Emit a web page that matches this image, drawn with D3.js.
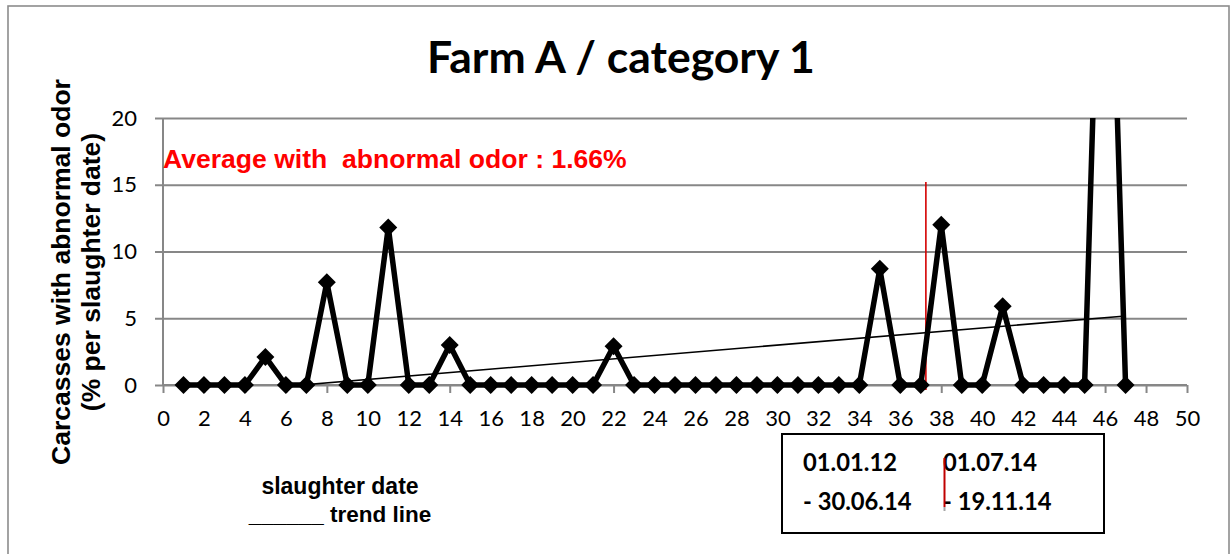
<!DOCTYPE html>
<html>
<head>
<meta charset="utf-8">
<script src="https://cdn.jsdelivr.net/npm/d3@7"></script>
<style>
  html, body { margin: 0; padding: 0; background: #fff; }
  svg { display: block; }
</style>
</head>
<body>
<svg id="chart" width="1231" height="554"></svg>
<script>
// Share of carcasses with abnormal odor per slaughter date (%)
const slaughterDates = [1, 2, 3, 4, 5, 6, 7, 8, 9, 10, 11, 12, 13, 14, 15, 16, 17, 18, 19, 20, 21, 22, 23, 24,
                        25, 26, 27, 28, 29, 30, 31, 32, 33, 34, 35, 36, 37, 38, 39, 40, 41, 42, 43, 44, 45, 46, 47];
const odorPercent = [0, 0, 0, 0, 2.1, 0, 0, 7.7, 0, 0, 11.8, 0, 0, 3.0, 0, 0, 0, 0, 0, 0, 0, 2.9, 0, 0,
                     0, 0, 0, 0, 0, 0, 0, 0, 0, 0, 8.7, 0, 0, 12.0, 0, 0, 5.9, 0, 0, 0, 0, 50, 0];

const xTicks = [0, 2, 4, 6, 8, 10, 12, 14, 16, 18, 20, 22, 24, 26, 28, 30, 32, 34, 36, 38, 40, 42, 44, 46, 48, 50];
const yTicks = [0, 5, 10, 15, 20];

// boundary between the two recording periods, and the height of its marker line
const periodBreak = 37.25;
const periodMarkerTop = 15.2;
const periodLabels = [["01.01.12", "- 30.06.14"], ["01.07.14", "- 19.11.14"]];

const titleText = "Farm A / category 1";
const yTitleLines = ["Carcasses with abnormal odor", "(% per slaughter date)"];
const averageLabel = "Average with  abnormal odor : 1.66%";
const xTitleLines = ["slaughter date", "______ trend line"];

const points = slaughterDates.map((d, i) => ({ x: d, y: odorPercent[i] }));

const svg = d3.select("#chart");
const gridColor = "#878787";
const calibriLike = "Lato, 'Open Sans', sans-serif";
const arialLike = "'Liberation Sans', Arial, sans-serif";

const x = d3.scaleLinear().domain([0, 50]).range([163, 1187]);
const y = d3.scaleLinear().domain([0, 20]).range([385, 118]);

// scale a text element's font so it spans the given width
function fitWidth(sel, width) {
  const len = sel.node().getComputedTextLength();
  const fs = parseFloat(sel.style("font-size"));
  const size = fs * width / len;
  sel.style("font-size", size + "px");
  return size;
}

// outer chart frame
svg.append("rect")
  .attr("x", 8).attr("y", 6)
  .attr("width", 1221).attr("height", 570)
  .attr("fill", "#fff")
  .attr("stroke", "#8c8c8c").attr("stroke-width", 1.6);

// horizontal gridlines with ticks on the left
const yAxis = d3.axisLeft(y)
  .tickValues(yTicks)
  .tickSize(-(x.range()[1] - x.range()[0]))
  .tickPadding(26)
  .tickFormat(d3.format("d"));
const gy = svg.append("g")
  .attr("transform", `translate(${x(0)},0)`)
  .call(yAxis);
gy.select(".domain").remove();
gy.selectAll(".tick line")
  .attr("x1", -8)
  .attr("stroke", gridColor).attr("stroke-width", 2);
gy.selectAll(".tick text")
  .attr("x", -26)
  .style("font-family", calibriLike).style("font-size", "22px")
  .attr("fill", "#000");

// vertical axis line
svg.append("line")
  .attr("x1", x(0)).attr("x2", x(0))
  .attr("y1", y(20)).attr("y2", y(0))
  .attr("stroke", gridColor).attr("stroke-width", 2);

// horizontal axis
const xAxis = d3.axisBottom(x)
  .tickValues(xTicks)
  .tickSize(8)
  .tickPadding(0)
  .tickFormat(d3.format("d"));
const gx = svg.append("g")
  .attr("transform", `translate(0,${y(0)})`)
  .call(xAxis);
gx.select(".domain")
  .attr("d", `M${x(0)},0H${x(50)}`)
  .attr("stroke", gridColor).attr("stroke-width", 2);
gx.selectAll(".tick line").attr("stroke", gridColor).attr("stroke-width", 2);
gx.selectAll(".tick text")
  .attr("dy", null).attr("y", 41)
  .style("font-family", calibriLike).style("font-size", "22px")
  .attr("fill", "#000");

// clipping: the plot area cuts lines that leave the top of the value range
const defs = svg.append("defs");
defs.append("clipPath").attr("id", "clip-series")
  .append("rect").attr("x", 140).attr("y", y(20))
  .attr("width", 1080).attr("height", 320);
defs.append("clipPath").attr("id", "clip-trend")
  .append("rect").attr("x", x(0)).attr("y", y(20))
  .attr("width", x(50) - x(0)).attr("height", y(0) - y(20));

// linear trend line (least squares over all slaughter dates)
const n = points.length;
const mx = d3.mean(points, d => d.x);
const my = d3.mean(points, d => d.y);
const slope = d3.sum(points, d => (d.x - mx) * (d.y - my)) / d3.sum(points, d => (d.x - mx) ** 2);
const intercept = my - slope * mx;
const xFirst = slaughterDates[0], xLast = slaughterDates[n - 1];
svg.append("line")
  .attr("clip-path", "url(#clip-trend)")
  .attr("x1", x(xFirst)).attr("y1", y(intercept + slope * xFirst))
  .attr("x2", x(xLast)).attr("y2", y(intercept + slope * xLast))
  .attr("stroke", "#000").attr("stroke-width", 1.6);

// period boundary marker
svg.append("line")
  .attr("x1", x(periodBreak)).attr("x2", x(periodBreak))
  .attr("y1", y(periodMarkerTop)).attr("y2", y(0) + 5)
  .attr("stroke", "#d40000").attr("stroke-width", 1.6);

// series line with diamond markers
const series = svg.append("g").attr("clip-path", "url(#clip-series)");
series.append("path")
  .datum(points)
  .attr("d", d3.line().x(d => x(d.x)).y(d => y(d.y)))
  .attr("fill", "none")
  .attr("stroke", "#000").attr("stroke-width", 5.5)
  .attr("stroke-linejoin", "round");
const r = 9;
series.selectAll(".marker")
  .data(points)
  .join("path")
  .attr("class", "marker")
  .attr("transform", d => `translate(${x(d.x)},${y(d.y)})`)
  .attr("d", `M0,${-r}L${r},0L0,${r}L${-r},0Z`)
  .attr("fill", "#000");

// title
const title = svg.append("text")
  .attr("x", 621).attr("y", 73)
  .attr("text-anchor", "middle")
  .style("font-family", calibriLike).style("font-weight", "bold").style("font-size", "44px")
  .text(titleText);
fitWidth(title, 388);

// vertical axis title
const yTitle = svg.append("g")
  .style("font-family", arialLike).style("font-weight", "bold").style("font-size", "26.5px");
yTitleLines.forEach((line, i) => {
  yTitle.append("text")
    .attr("transform", `translate(${70 + i * 30},272) rotate(-90)`)
    .attr("text-anchor", "middle")
    .text(line);
});

// average annotation
const avg = svg.append("text")
  .attr("x", 163).attr("y", 168)
  .style("white-space", "pre")
  .style("font-family", arialLike).style("font-weight", "bold").style("font-size", "26px")
  .attr("fill", "#ff0000")
  .text(averageLabel);
fitWidth(avg, 464);

// horizontal axis title and trend-line key
svg.append("text")
  .attr("x", 340).attr("y", 494)
  .attr("text-anchor", "middle")
  .style("font-family", arialLike).style("font-weight", "bold").style("font-size", "23px")
  .text(xTitleLines[0]);
svg.append("text")
  .attr("x", 340).attr("y", 522)
  .attr("text-anchor", "middle")
  .style("font-family", arialLike).style("font-weight", "bold").style("font-size", "22.5px")
  .text(xTitleLines[1]);

// period key box
svg.append("rect")
  .attr("x", 782).attr("y", 434)
  .attr("width", 322).attr("height", 99)
  .attr("fill", "#fff")
  .attr("stroke", "#000").attr("stroke-width", 2);
const keyX = [803, 943];
let keySize = null;
periodLabels.forEach((pair, i) => {
  pair.forEach((label, j) => {
    const t = svg.append("text")
      .attr("x", keyX[i]).attr("y", 471 + j * 39)
      .style("font-family", calibriLike).style("font-weight", "bold")
      .style("font-size", (keySize || 24) + "px")
      .text(label);
    if (keySize === null) keySize = fitWidth(t, 94);
  });
});
svg.append("line")
  .attr("x1", 944.5).attr("x2", 944.5)
  .attr("y1", 458).attr("y2", 507)
  .attr("stroke", "#c00000").attr("stroke-width", 2);
svg.append("line")
  .attr("x1", 944.5).attr("x2", 944.5)
  .attr("y1", 507).attr("y2", 511)
  .attr("stroke", "#a6a6a6").attr("stroke-width", 2);
</script>
</body>
</html>
